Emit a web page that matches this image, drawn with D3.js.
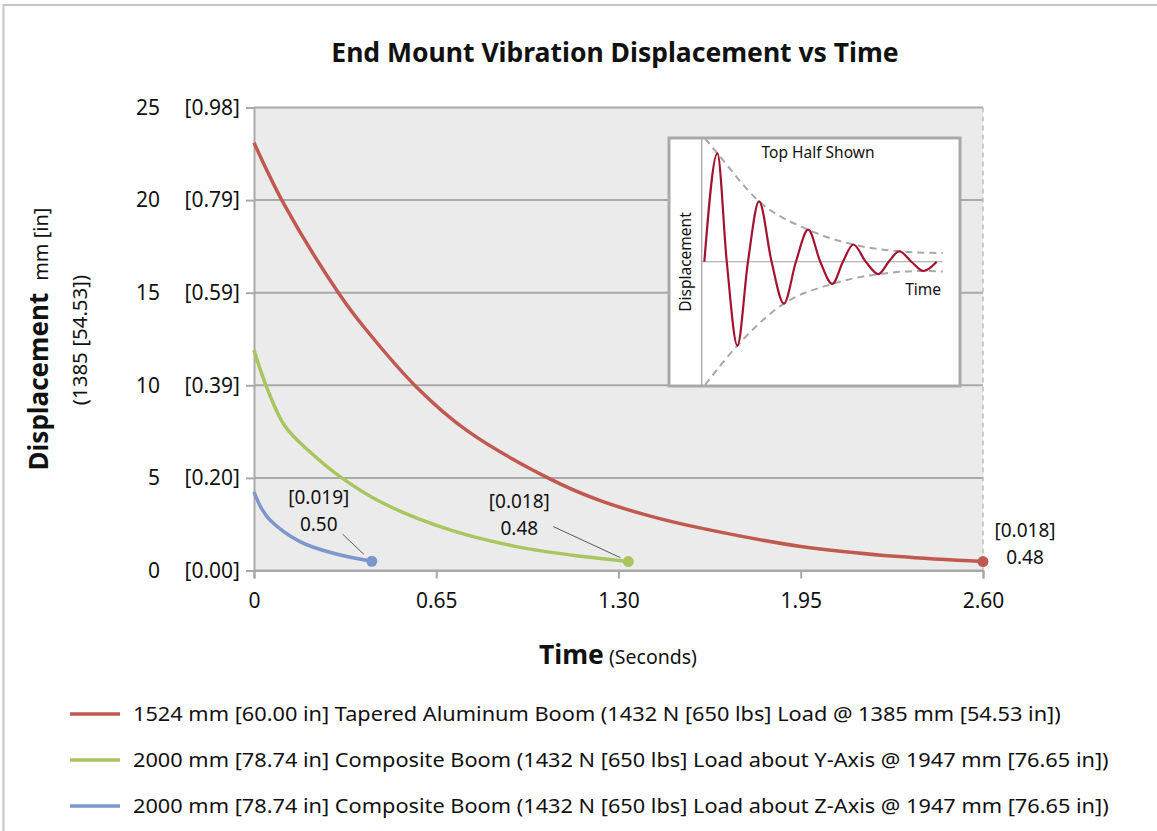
<!DOCTYPE html>
<html>
<head>
<meta charset="utf-8">
<script src="https://cdnjs.cloudflare.com/ajax/libs/d3/7.8.5/d3.min.js"></script>
<style>
  body { margin: 0; background: #fff; }
  text { font-family: "Noto Sans", "DejaVu Sans", sans-serif; fill: #111; }
</style>
</head>
<body>
<div id="main"></div>
<script>
// ---- data ----
var seriesNames = [
  "1524 mm [60.00 in] Tapered Aluminum Boom (1432 N [650 lbs] Load @ 1385 mm [54.53 in])",
  "2000 mm [78.74 in] Composite Boom (1432 N [650 lbs] Load about Y-Axis @ 1947 mm [76.65 in])",
  "2000 mm [78.74 in] Composite Boom (1432 N [650 lbs] Load about Z-Axis @ 1947 mm [76.65 in])"
];
var seriesColors = ["#c0594f", "#a9c55f", "#7d96cb"];

var redTime = [0, 0.11, 0.31, 0.40, 0.58, 0.76, 1.055, 1.23, 1.41, 1.59, 1.95, 2.30, 2.60];
var redDisp = [23.1, 19.7, 14.8, 13.0, 9.9, 7.55, 4.95, 3.8, 2.95, 2.3, 1.3, 0.75, 0.48];

var greenTime = [0, 0.045, 0.11, 0.20, 0.318, 0.461, 0.699, 0.936, 1.174, 1.335];
var greenDisp = [11.9, 9.9, 7.8, 6.4, 4.95, 3.63, 2.19, 1.29, 0.75, 0.48];

var blueTime = [0, 0.025, 0.057, 0.164, 0.283, 0.42];
var blueDisp = [4.25, 3.4, 2.73, 1.56, 0.93, 0.50];

var endLabelsMm = ["0.48", "0.48", "0.50"];
var endLabelsIn = ["[0.018]", "[0.018]", "[0.019]"];

var xTicks = [0, 0.65, 1.30, 1.95, 2.60];
var xTickLabels = ["0", "0.65", "1.30", "1.95", "2.60"];
var yTicks = [0, 5, 10, 15, 20, 25];
var yTickLabelsIn = ["[0.00]", "[0.20]", "[0.39]", "[0.59]", "[0.79]", "[0.98]"];

// inset sketch (arbitrary units)
var waveT = [1.1, 6.5, 10.4, 14.8, 19.2, 23.8, 29.0, 34.1, 39.1, 44.2, 49.2, 54.2, 58.6, 62.9, 68.1, 73.3, 77.6, 82.0, 87.0, 92.0, 97.5];
var waveY = [0, 88, 0, -68, 0, 49, 0, -34, 0, 26, 0, -18, 0, 14, 0, -10, 0, 8.5, 0, -7.5, 0];
var envUpT = [1.4, 6.5, 23.8, 44.2, 62.9, 82.0, 100];
var envUpY = [100, 88, 49, 26, 14, 8.5, 7];
var envLoT = [1.4, 14.8, 34.1, 54.2, 73.3, 92.0, 100];
var envLoY = [-100, -68, -34, -18, -10, -7.5, -8];

// ---- layout ----
var W = 1157, H = 831;
var margin = {top: 107.5, left: 254, right: 174, bottom: 260.5},
    width = W - margin.left - margin.right,
    height = H - margin.top - margin.bottom;
var tickFont = "21px";

var root = d3.select("#main").append("svg")
    .attr("width", W)
    .attr("height", H);

// outer chart border
root.append("rect")
    .attr("x", 3.5).attr("y", 5)
    .attr("width", W + 10).attr("height", H + 10)
    .attr("fill", "none")
    .attr("stroke", "#c6c6c6")
    .attr("stroke-width", 2);

var svg = root.append("g")
    .attr("transform", "translate(" + margin.left + "," + margin.top + ")");

var x = d3.scaleLinear().domain([0, 2.6]).range([0, width]);
var y = d3.scaleLinear().domain([0, 25]).range([height, 0]);

// plot background
svg.append("rect")
    .attr("width", width).attr("height", height)
    .attr("fill", "#ebebeb");

// gridlines
svg.selectAll(".grid")
    .data(yTicks)
    .enter().append("line")
    .attr("x1", 0).attr("x2", width)
    .attr("y1", function(d) { return y(d); })
    .attr("y2", function(d) { return y(d); })
    .attr("stroke", "#a9a9a9")
    .attr("stroke-width", 2);

// dashed right edge
svg.append("line")
    .attr("x1", width).attr("x2", width)
    .attr("y1", 0).attr("y2", height)
    .attr("stroke", "#bdbdbd")
    .attr("stroke-width", 1.5)
    .attr("stroke-dasharray", "5,4");

// y axis
var yAxis = svg.append("g")
    .call(d3.axisLeft(y)
        .tickValues(yTicks)
        .tickSize(8)
        .tickPadding(6)
        .tickFormat(function(d, i) { return yTickLabelsIn[i]; }));
yAxis.select(".domain").attr("stroke", "#a9a9a9").attr("stroke-width", 2);
yAxis.selectAll(".tick line").attr("stroke", "#a9a9a9").attr("stroke-width", 2);
yAxis.selectAll(".tick text")
    .style("font-family", "Noto Sans")
    .style("font-size", tickFont)
    .attr("fill", "#111");

// mm column of the y labels
svg.selectAll(".ymm")
    .data(yTicks)
    .enter().append("text")
    .attr("x", -94)
    .attr("y", function(d) { return y(d); })
    .attr("dy", "0.35em")
    .attr("text-anchor", "end")
    .style("font-size", tickFont)
    .text(function(d) { return d; });

// x axis
var xAxis = svg.append("g")
    .attr("transform", "translate(0," + height + ")")
    .call(d3.axisBottom(x)
        .tickValues(xTicks)
        .tickSize(8)
        .tickPadding(15)
        .tickFormat(function(d, i) { return xTickLabels[i]; }));
xAxis.select(".domain").attr("stroke", "#a9a9a9").attr("stroke-width", 2);
xAxis.selectAll(".tick line").attr("stroke", "#a9a9a9").attr("stroke-width", 2);
xAxis.selectAll(".tick text")
    .style("font-family", "Noto Sans")
    .style("font-size", tickFont)
    .attr("fill", "#111");

// series
var series = [
  {t: redTime, v: redDisp},
  {t: greenTime, v: greenDisp},
  {t: blueTime, v: blueDisp}
];

var line = d3.line()
    .x(function(d) { return x(d[0]); })
    .y(function(d) { return y(d[1]); })
    .curve(d3.curveCatmullRom.alpha(0.5));

series.forEach(function(s, i) {
  var pts = s.t.map(function(t, k) { return [t, s.v[k]]; });
  svg.append("path")
      .datum(pts)
      .attr("d", line)
      .attr("fill", "none")
      .attr("stroke", seriesColors[i])
      .attr("stroke-width", 3.5);
  var last = pts[pts.length - 1];
  svg.append("circle")
      .attr("cx", x(last[0]))
      .attr("cy", y(last[1]))
      .attr("r", 5.5)
      .attr("fill", seriesColors[i]);
});

// end point labels (offsets from the end point)
var labelPos = [
  {dx: 42, dy: -31, lead: null},
  {dx: -109, dy: -60, lead: [-75, -35, -8, -4]},
  {dx: -53, dy: -64, lead: [-29, -27, -8, -7]}
];
series.forEach(function(s, i) {
  var px = x(s.t[s.t.length - 1]), py = y(s.v[s.v.length - 1]);
  var p = labelPos[i];
  svg.append("text")
      .attr("x", px + p.dx).attr("y", py + p.dy)
      .attr("dy", "0.35em")
      .attr("text-anchor", "middle")
      .style("font-size", "19px")
      .text(endLabelsIn[i]);
  svg.append("text")
      .attr("x", px + p.dx).attr("y", py + p.dy + 27)
      .attr("dy", "0.35em")
      .attr("text-anchor", "middle")
      .style("font-size", "19px")
      .text(endLabelsMm[i]);
  if (p.lead) {
    svg.append("line")
        .attr("x1", px + p.lead[0]).attr("y1", py + p.lead[1])
        .attr("x2", px + p.lead[2]).attr("y2", py + p.lead[3])
        .attr("stroke", "#333")
        .attr("stroke-width", 0.8);
  }
});

// ---- inset sketch ----
var inset = root.append("g").attr("transform", "translate(669,138)");
inset.append("rect")
    .attr("width", 291).attr("height", 248)
    .attr("fill", "#fff")
    .attr("stroke", "#a9a9a9")
    .attr("stroke-width", 3);

var ix = d3.scaleLinear().domain([0, 100]).range([32.7, 273.7]);
var iy = d3.scaleLinear().domain([-100, 100]).range([247, 0.5]);

inset.append("line")
    .attr("x1", ix(0)).attr("x2", ix(0))
    .attr("y1", iy(-100)).attr("y2", iy(100))
    .attr("stroke", "#a0a0a0").attr("stroke-width", 1.2);
inset.append("line")
    .attr("x1", ix(0)).attr("x2", ix(100))
    .attr("y1", iy(0)).attr("y2", iy(0))
    .attr("stroke", "#a0a0a0").attr("stroke-width", 1.2);

var iline = d3.line()
    .x(function(d) { return ix(d[0]); })
    .y(function(d) { return iy(d[1]); })
    .curve(d3.curveMonotoneX);

[[envUpT, envUpY], [envLoT, envLoY]].forEach(function(env) {
  inset.append("path")
      .datum(env[0].map(function(t, k) { return [t, env[1][k]]; }))
      .attr("d", iline)
      .attr("fill", "none")
      .attr("stroke", "#a8a8a8")
      .attr("stroke-width", 2)
      .attr("stroke-dasharray", "7,5");
});
inset.append("path")
    .datum(waveT.map(function(t, k) { return [t, waveY[k]]; }))
    .attr("d", iline)
    .attr("fill", "none")
    .attr("stroke", "#a3122e")
    .attr("stroke-width", 2.2);

inset.append("text")
    .attr("x", 149).attr("y", 15)
    .attr("dy", "0.35em")
    .attr("text-anchor", "middle")
    .style("font-size", "15.5px")
    .text("Top Half Shown");
inset.append("text")
    .attr("x", 272).attr("y", 152)
    .attr("dy", "0.35em")
    .attr("text-anchor", "end")
    .style("font-size", "15.5px")
    .text("Time");
inset.append("text")
    .attr("transform", "translate(17,124)rotate(-90)")
    .attr("dy", "0.35em")
    .attr("text-anchor", "middle")
    .style("font-size", "15.5px")
    .text("Displacement");

// ---- titles ----
root.append("text")
    .attr("x", 615).attr("y", 53)
    .attr("dy", "0.35em")
    .attr("text-anchor", "middle")
    .style("font-size", "26.5px")
    .style("font-weight", "bold")
    .text("End Mount Vibration Displacement vs Time");

var xt = root.append("text")
    .attr("x", 618).attr("y", 658)
    .attr("dy", "0.35em")
    .attr("text-anchor", "middle");
xt.append("tspan").style("font-size", "26.5px").style("font-weight", "bold").text("Time");
xt.append("tspan").style("font-size", "19.5px").text(" (Seconds)");

var yt = root.append("text")
    .attr("transform", "translate(42,339)rotate(-90)")
    .attr("dy", "0.35em")
    .attr("text-anchor", "middle");
yt.append("tspan").style("font-size", "26px").style("font-weight", "bold").text("Displacement");
yt.append("tspan").attr("dx", 12).style("font-size", "20px").text("mm [in]");

root.append("text")
    .attr("transform", "translate(80,340)rotate(-90)")
    .attr("dy", "0.35em")
    .attr("text-anchor", "middle")
    .style("font-size", "20.5px")
    .text("(1385 [54.53])");

// ---- legend ----
var legend = root.append("g").attr("transform", "translate(70,714)");
var rows = legend.selectAll(".row")
    .data(seriesNames)
    .enter().append("g")
    .attr("transform", function(d, i) { return "translate(0," + (i * 46) + ")"; });
rows.append("line")
    .attr("x1", 0).attr("x2", 50)
    .attr("stroke", function(d, i) { return seriesColors[i]; })
    .attr("stroke-width", 3.5);
rows.append("text")
    .attr("x", 63)
    .attr("dy", "0.35em")
    .style("font-size", "20.5px")
    .text(function(d) { return d; })
    .each(function() {
      // the original face is wider; stretch slightly
      d3.select(this)
        .attr("textLength", this.getComputedTextLength() * 1.06)
        .attr("lengthAdjust", "spacingAndGlyphs");
    });
</script>
</body>
</html>
